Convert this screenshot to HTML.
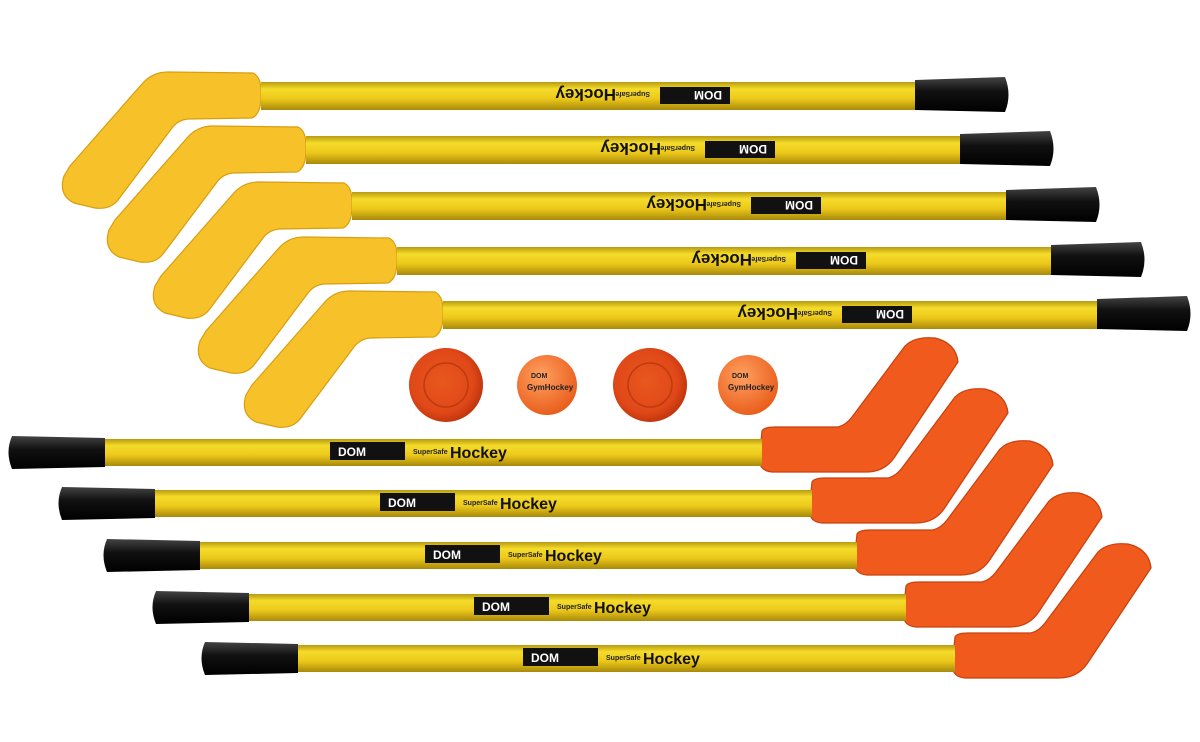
<!DOCTYPE html>
<html><head><meta charset="utf-8"><style>
html,body{margin:0;padding:0;background:#fff;}
svg{display:block}
text{font-family:"Liberation Sans",sans-serif;font-weight:bold}
</style></head><body>
<svg width="1200" height="742" viewBox="0 0 1200 742" xmlns="http://www.w3.org/2000/svg">
<defs>
<linearGradient id="shaft" x1="0" y1="0" x2="0" y2="1">
<stop offset="0" stop-color="#b89a10"/><stop offset="0.25" stop-color="#f5dc2a"/><stop offset="0.6" stop-color="#ecc81a"/><stop offset="1" stop-color="#a88a0a"/></linearGradient>
<linearGradient id="grip" x1="0" y1="0" x2="0" y2="1">
<stop offset="0" stop-color="#444"/><stop offset="0.4" stop-color="#111"/><stop offset="1" stop-color="#000"/></linearGradient>
<radialGradient id="puck" cx="0.45" cy="0.45" r="0.6"><stop offset="0" stop-color="#e8581e"/><stop offset="0.7" stop-color="#e04818"/><stop offset="1" stop-color="#b8300a"/></radialGradient>
<radialGradient id="ball" cx="0.4" cy="0.35" r="0.7"><stop offset="0" stop-color="#ffa060"/><stop offset="1" stop-color="#e85a18"/></radialGradient>
<g id="top">
<path d="M253,73 Q262,77 261,96 Q261,114 252,118 L188,119 Q178,120 172,128 L118,200 Q110,210 95,208 L74,203 Q58,195 64,176 L70,166 L142,84 Q152,72 168,72 Z" fill="#f7c229" stroke="#d89e10" stroke-width="1.2"/>
<rect x="261" y="82" width="656" height="28" fill="url(#shaft)"/>
<path d="M915,80 L1005,77 Q1012,95 1005,112 L915,110 Z" fill="url(#grip)"/>
<g transform="rotate(180 600 96)">
<rect x="470" y="88" width="70" height="17" fill="#111"/>
<text x="478" y="101" font-size="12" fill="#fff">DOM</text>
<text x="550" y="100" font-size="7" fill="#222" font-weight="normal">Super<tspan font-weight="bold">Safe</tspan></text>
<text x="584" y="103" font-size="17" fill="#111">Hockey</text>
</g>
</g>
<g id="bot">
<path d="M762,431 Q764,427 775,427 L838,427 Q846,425 852,417 L905,346 Q915,336 935,338 Q956,343 958,362 L894,458 Q884,472 866,472 L772,472 Q760,471 759,460 Z" fill="#f05a1c" stroke="#c8400c" stroke-width="1.2"/>
<rect x="100" y="439" width="662" height="27" fill="url(#shaft)"/>
<path d="M12,436 L105,438 L105,467 L12,469 Q5,452 12,436 Z" fill="url(#grip)"/>
<rect x="330" y="442" width="75" height="18" fill="#111"/>
<text x="338" y="456" font-size="12" fill="#fff">DOM</text>
<text x="413" y="454" font-size="7" fill="#222" font-weight="normal">Super<tspan font-weight="bold">Safe</tspan></text>
<text x="450" y="458" font-size="16" fill="#111">Hockey</text>
</g>
</defs>
<use href="#top"/>
<use href="#top" transform="translate(45,54)"/>
<use href="#top" transform="translate(91,110)"/>
<use href="#top" transform="translate(136,165)"/>
<use href="#top" transform="translate(182,219)"/>
<use href="#bot"/>
<use href="#bot" transform="translate(50,51)"/>
<use href="#bot" transform="translate(95,103)"/>
<use href="#bot" transform="translate(144,155)"/>
<use href="#bot" transform="translate(193,206)"/>
<circle cx="446" cy="385" r="37" fill="url(#puck)"/>
<circle cx="446" cy="385" r="22" fill="none" stroke="#c03a10" stroke-width="1.5"/>
<circle cx="650" cy="385" r="37" fill="url(#puck)"/>
<circle cx="650" cy="385" r="22" fill="none" stroke="#c03a10" stroke-width="1.5"/>
<circle cx="547" cy="385" r="30" fill="url(#ball)"/>
<circle cx="748" cy="385" r="30" fill="url(#ball)"/>
<text x="531" y="378" font-size="7" fill="#222">DOM</text>
<text x="527" y="390" font-size="8" fill="#222">GymHockey</text>
<text x="732" y="378" font-size="7" fill="#222">DOM</text>
<text x="728" y="390" font-size="8" fill="#222">GymHockey</text>
</svg>
</body></html>
